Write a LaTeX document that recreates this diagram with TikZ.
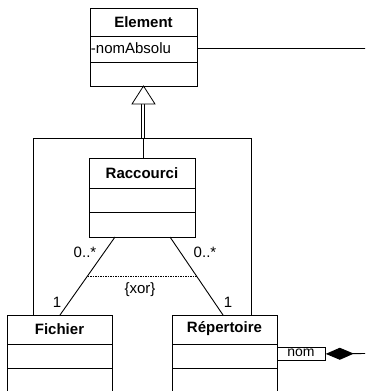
\documentclass[tikz,border=0pt]{standalone}
\usepackage{fontspec}
\setmainfont{Liberation Sans}
\usetikzlibrary{arrows.meta}
\begin{document}
\begin{tikzpicture}[x=1pt,y=-1pt,line width=0.9pt,
  cls/.style={draw,rectangle,inner sep=0pt,anchor=north west},
  ctitle/.style={inner sep=0pt,font=\fontsize{15}{17}\selectfont\bfseries},
  txt/.style={inner sep=0pt,font=\fontsize{15}{17}\selectfont},
  xorline/.style={line width=0.8pt,dash pattern=on 1.5pt off 1pt}]
\useasboundingbox (0,0) rectangle (365,391);
\clip (0,0) rectangle (365,391);

% class Element
\node[cls,minimum width=107pt,minimum height=78pt] (element) at (90,8) {};
\draw (90,36) -- (197,36) (90,62) -- (197,62);
\node[ctitle] (elementT) at (143.5,22) {Element};
\node[txt,anchor=west] (nomAbs) at (90.5,48) {-nomAbsolu};
\coordinate (eastEnd) at (366,48);
\draw (element.east |- nomAbs) -- (eastEnd);

% class Raccourci
\node[cls,minimum width=106pt,minimum height=79pt] (raccourci) at (89,158) {};
\draw (89,188) -- (195,188) (89,212) -- (195,212);
\node[ctitle] (raccourciT) at (142,173) {Raccourci};

% class Fichier
\node[cls,minimum width=105pt,minimum height=90pt] (fichier) at (7,315) {};
\draw (7,344) -- (112,344) (7,368) -- (112,368);
\node[ctitle] (fichierT) at (59.5,329) {Fichier};

% class Répertoire
\node[cls,minimum width=105pt,minimum height=90pt] (repertoire) at (172,315) {};
\draw (172,344) -- (277,344) (172,368) -- (277,368);
\node[ctitle] (repertoireT) at (224.5,329) {Répertoire};

% generalization towards Element
\coordinate (apex) at (143.5,86);
\coordinate (triL) at (132,104);
\coordinate (triR) at (155,104);
\coordinate (gen) at (143,138);
\coordinate (jl) at (33,138);
\coordinate (jr) at (251,138);
\draw[line width=0.7pt] (141.8,104) -- (141.8,138) (144.2,104) -- (144.2,138);
\draw[fill=white,line width=0.8pt] (apex) -- (triL) -- (triR) -- cycle;
\draw (fichier.north -| jl) -- (jl) -- (jr) -- (repertoire.north -| jr);
\draw (gen) -- (raccourci.north -| gen);

% associations with {xor} constraint
\coordinate (rl) at (115,237);
\coordinate (rr) at (170,237);
\coordinate (fl) at (60,315);
\coordinate (fr) at (223,315);
\draw (rl) -- (fl) coordinate[pos=0.5] (xl);
\draw (rr) -- (fr) coordinate[pos=0.5] (xr);
\draw[xorline] (xl) -- (xr);
\node[txt] (xorT) at (140,290) {\{xor\}};
\node[txt] (m1) at (85,252) {0..*};
\node[txt] (m2) at (205,252) {0..*};
\node[txt] (m3) at (57,302) {1};
\node[txt] (m4) at (228,302) {1};

% qualified composition
\node[draw,rectangle,inner sep=0pt,minimum width=48pt,minimum height=13pt,anchor=north west,line width=0.8pt] (qual) at (277,347) {};
\node[txt,font=\fontsize{14}{16}\selectfont] (qualT) at (301,353) {nom};
\coordinate (compEnd) at (366,353.5);
\draw[{Diamond[length=28pt,width=12pt]}-] (qual.east) -- (compEnd);
\end{tikzpicture}
\end{document}
